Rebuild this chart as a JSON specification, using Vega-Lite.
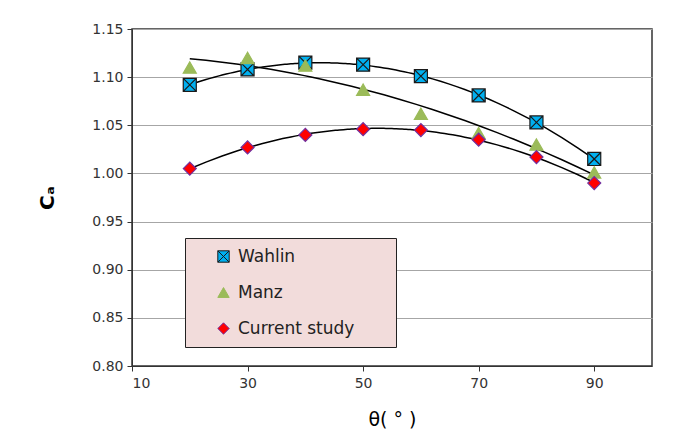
{
  "$schema": "https://vega.github.io/schema/vega-lite/v6.json",
  "autosize": "none",
  "width": 520,
  "height": 337,
  "padding": {"left": 132, "top": 29, "right": 41, "bottom": 82},
  "background": "white",
  "config": {
    "font": "DejaVu Sans",
    "view": {"stroke": "#333333", "strokeWidth": 1.5},
    "axis": {"labelFont": "DejaVu Sans", "labelFontSize": 14, "labelColor": "#333333", "titleFont": "DejaVu Sans", "titleFontWeight": "normal", "titleColor": "black"},
    "legend": {"orient": "none", "legendX": 53, "legendY": 209, "fillColor": "#f2dcdb", "strokeColor": "#222222", "padding": 10, "symbolOffset": 20, "labelFontSize": 17, "labelFont": "DejaVu Sans", "labelColor": "#222222", "rowPadding": 18, "symbolSize": 130, "symbolStrokeWidth": 1, "labelOffset": 6, "titleOrient": "right", "titleColor": "transparent", "titleFontSize": 16, "titlePadding": 0}
  },
  "data": {"values": [
    {"theta": 20, "ca": 1.092, "series": "Wahlin"},
    {"theta": 30, "ca": 1.108, "series": "Wahlin"},
    {"theta": 40, "ca": 1.115, "series": "Wahlin"},
    {"theta": 50, "ca": 1.113, "series": "Wahlin"},
    {"theta": 60, "ca": 1.101, "series": "Wahlin"},
    {"theta": 70, "ca": 1.081, "series": "Wahlin"},
    {"theta": 80, "ca": 1.053, "series": "Wahlin"},
    {"theta": 90, "ca": 1.015, "series": "Wahlin"},
    {"theta": 20, "ca": 1.110, "series": "Manz"},
    {"theta": 30, "ca": 1.120, "series": "Manz"},
    {"theta": 40, "ca": 1.112, "series": "Manz"},
    {"theta": 50, "ca": 1.087, "series": "Manz"},
    {"theta": 60, "ca": 1.062, "series": "Manz"},
    {"theta": 70, "ca": 1.042, "series": "Manz"},
    {"theta": 80, "ca": 1.030, "series": "Manz"},
    {"theta": 90, "ca": 1.001, "series": "Manz"},
    {"theta": 20, "ca": 1.005, "series": "Current study"},
    {"theta": 30, "ca": 1.027, "series": "Current study"},
    {"theta": 40, "ca": 1.040, "series": "Current study"},
    {"theta": 50, "ca": 1.046, "series": "Current study"},
    {"theta": 60, "ca": 1.045, "series": "Current study"},
    {"theta": 70, "ca": 1.035, "series": "Current study"},
    {"theta": 80, "ca": 1.017, "series": "Current study"},
    {"theta": 90, "ca": 0.990, "series": "Current study"}
  ]},
  "encoding": {
    "x": {"field": "theta", "type": "quantitative",
      "scale": {"domain": [10, 100], "nice": false, "zero": false},
      "axis": {"values": [10, 30, 50, 70, 90], "grid": false, "title": "θ( ° )", "titleFontSize": 19, "titlePadding": 20, "domainColor": "#333333", "tickColor": "#333333", "labelPadding": 5, "tickSize": 5}},
    "y": {"field": "ca", "type": "quantitative",
      "scale": {"domain": [0.8, 1.15], "nice": false, "zero": false},
      "axis": {"values": [0.8, 0.85, 0.9, 0.95, 1.0, 1.05, 1.1, 1.15], "format": ".2f", "grid": true, "gridColor": "#a6a6a6", "gridWidth": 1.2, "title": "Cₐ", "titleFontSize": 20, "titleFontWeight": "bold", "titlePadding": 34, "domainColor": "#333333", "tickColor": "#333333", "tickSize": 5, "labelPadding": 4}}
  },
  "layer": [
    {
      "transform": [{"regression": "ca", "on": "theta", "groupby": ["series"], "method": "poly", "order": 2, "extent": [20, 90]}],
      "mark": {"type": "line", "color": "black", "strokeWidth": 1.5},
      "encoding": {"detail": {"field": "series"}}
    },
    {
      "mark": {"type": "point", "filled": true, "opacity": 1, "strokeWidth": 1.2, "size": 170},
      "encoding": {
        "shape": {"field": "series", "type": "nominal",
          "scale": {"domain": ["Wahlin", "Manz", "Current study"], "range": ["M-1,-1H1V1H-1ZM-1,-1L1,1M-1,1L1,-1", "triangle-up", "diamond"]},
          "legend": {"title": "MM"}},
        "color": {"field": "series", "type": "nominal",
          "scale": {"domain": ["Wahlin", "Manz", "Current study"], "range": ["#00b0f0", "#9bbb59", "#ff0000"]},
          "legend": {"title": "MM"}},
        "stroke": {"field": "series", "type": "nominal",
          "scale": {"domain": ["Wahlin", "Manz", "Current study"], "range": ["#1a1a1a", "#9bbb59", "#7030a0"]},
          "legend": {"title": "MM"}}
      }
    }
  ]
}
